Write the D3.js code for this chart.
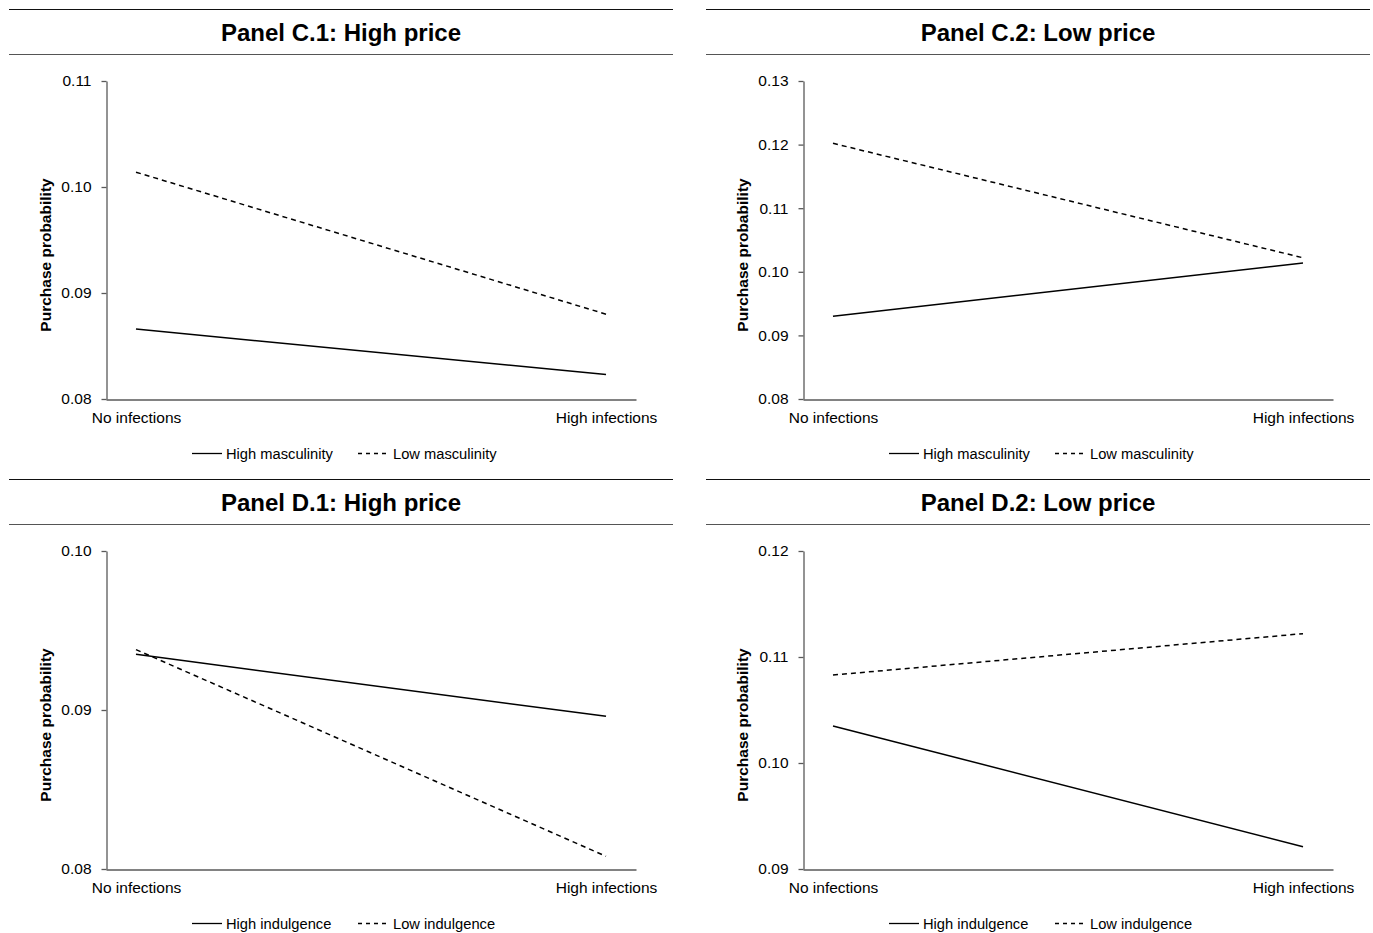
<!DOCTYPE html>
<html>
<head>
<meta charset="utf-8">
<script src="https://cdn.jsdelivr.net/npm/d3@7"></script>
<style>
  body { margin: 0; background: #fff; }
  svg { display: block; font-family: "Liberation Sans", Arial, sans-serif; }
</style>
</head>
<body>
<svg id="chart" width="1373" height="933"></svg>
<script>
// ---- data ----
const categories = ["No infections", "High infections"];
const panelTitles = ["Panel C.1: High price", "Panel C.2: Low price", "Panel D.1: High price", "Panel D.2: Low price"];
const seriesNamesC = ["High masculinity", "Low masculinity"];
const seriesNamesD = ["High indulgence", "Low indulgence"];

const c1High = [0.0866, 0.0823];
const c1Low  = [0.1014, 0.0880];
const c2High = [0.0930, 0.1014];
const c2Low  = [0.1202, 0.1022];
const d1High = [0.0935, 0.0896];
const d1Low  = [0.0938, 0.0808];
const d2High = [0.1035, 0.0921];
const d2Low  = [0.1083, 0.1122];

const yTicksC1 = [0.08, 0.09, 0.10, 0.11];
const yTicksC2 = [0.08, 0.09, 0.10, 0.11, 0.12, 0.13];
const yTicksD1 = [0.08, 0.09, 0.10];
const yTicksD2 = [0.09, 0.10, 0.11, 0.12];

const yLabel = "Purchase probability";

const panels = [
  { title: panelTitles[0], names: seriesNamesC, high: c1High, low: c1Low, ticks: yTicksC1, ox: 0,   oy: 0 },
  { title: panelTitles[1], names: seriesNamesC, high: c2High, low: c2Low, ticks: yTicksC2, ox: 697, oy: 0 },
  { title: panelTitles[2], names: seriesNamesD, high: d1High, low: d1Low, ticks: yTicksD1, ox: 0,   oy: 470 },
  { title: panelTitles[3], names: seriesNamesD, high: d2High, low: d2Low, ticks: yTicksD2, ox: 697, oy: 470 }
];

const svg = d3.select("#chart");
const axisColor = "#595959";
const fontFam = "Liberation Sans, Arial, sans-serif";

panels.forEach(p => {
  const g = svg.append("g").attr("transform", `translate(${p.ox},${p.oy})`);

  // rules and title
  g.append("line").attr("x1", 9).attr("x2", 673).attr("y1", 9.5).attr("y2", 9.5)
    .attr("stroke", "#111").attr("stroke-width", 1.2);
  g.append("line").attr("x1", 9).attr("x2", 673).attr("y1", 54.5).attr("y2", 54.5)
    .attr("stroke", "#555").attr("stroke-width", 1.2);
  g.append("text").attr("x", 341).attr("y", 41).attr("text-anchor", "middle")
    .attr("font-size", 24).attr("font-weight", "bold").attr("fill", "#000").text(p.title);

  const x = d3.scalePoint().domain(categories).range([106, 636]).padding(0.0638);
  const y = d3.scaleLinear().domain([d3.min(p.ticks), d3.max(p.ticks)]).range([399, 81]);

  // y axis
  const ya = g.append("g").attr("transform", "translate(106.5,0)")
    .call(d3.axisLeft(y).tickValues(p.ticks).tickFormat(d3.format(".2f")).tickSize(5).tickSizeOuter(0).tickPadding(10));
  ya.select(".domain").attr("stroke", axisColor).attr("stroke-width", 1.3);
  ya.selectAll(".tick line").attr("stroke", axisColor).attr("stroke-width", 1.3);
  ya.selectAll(".tick text").attr("font-size", 15.5).attr("fill", "#000").attr("font-family", fontFam);

  // x axis
  const xa = g.append("g").attr("transform", "translate(0,399.5)")
    .call(d3.axisBottom(x).tickSize(0).tickSizeOuter(0).tickPadding(12));
  xa.select(".domain").attr("stroke", axisColor).attr("stroke-width", 1.3);
  xa.selectAll(".tick text").attr("font-size", 15.5).attr("fill", "#000").attr("font-family", fontFam);

  // y label
  g.append("text").attr("transform", "translate(51,255) rotate(-90)")
    .attr("text-anchor", "middle").attr("font-size", 15.5).attr("font-weight", "bold").text(yLabel);

  // lines
  const line = d3.line().x((d, i) => x(categories[i])).y(d => y(d));
  g.append("path").datum(p.high).attr("d", line).attr("fill", "none")
    .attr("stroke", "#000").attr("stroke-width", 1.5);
  g.append("path").datum(p.low).attr("d", line).attr("fill", "none")
    .attr("stroke", "#000").attr("stroke-width", 1.5).attr("stroke-dasharray", "5,4");

  // legend
  const lg = g.append("g").attr("transform", "translate(0,453.5)");
  lg.append("line").attr("x1", 192).attr("x2", 222).attr("stroke", "#000").attr("stroke-width", 1.3);
  lg.append("text").attr("x", 226).attr("y", 5).attr("font-size", 14.7).text(p.names[0]);
  lg.append("line").attr("x1", 358).attr("x2", 390).attr("stroke", "#000").attr("stroke-width", 1.3)
    .attr("stroke-dasharray", "4,4");
  lg.append("text").attr("x", 393).attr("y", 5).attr("font-size", 14.7).text(p.names[1]);
});
</script>
</body>
</html>
